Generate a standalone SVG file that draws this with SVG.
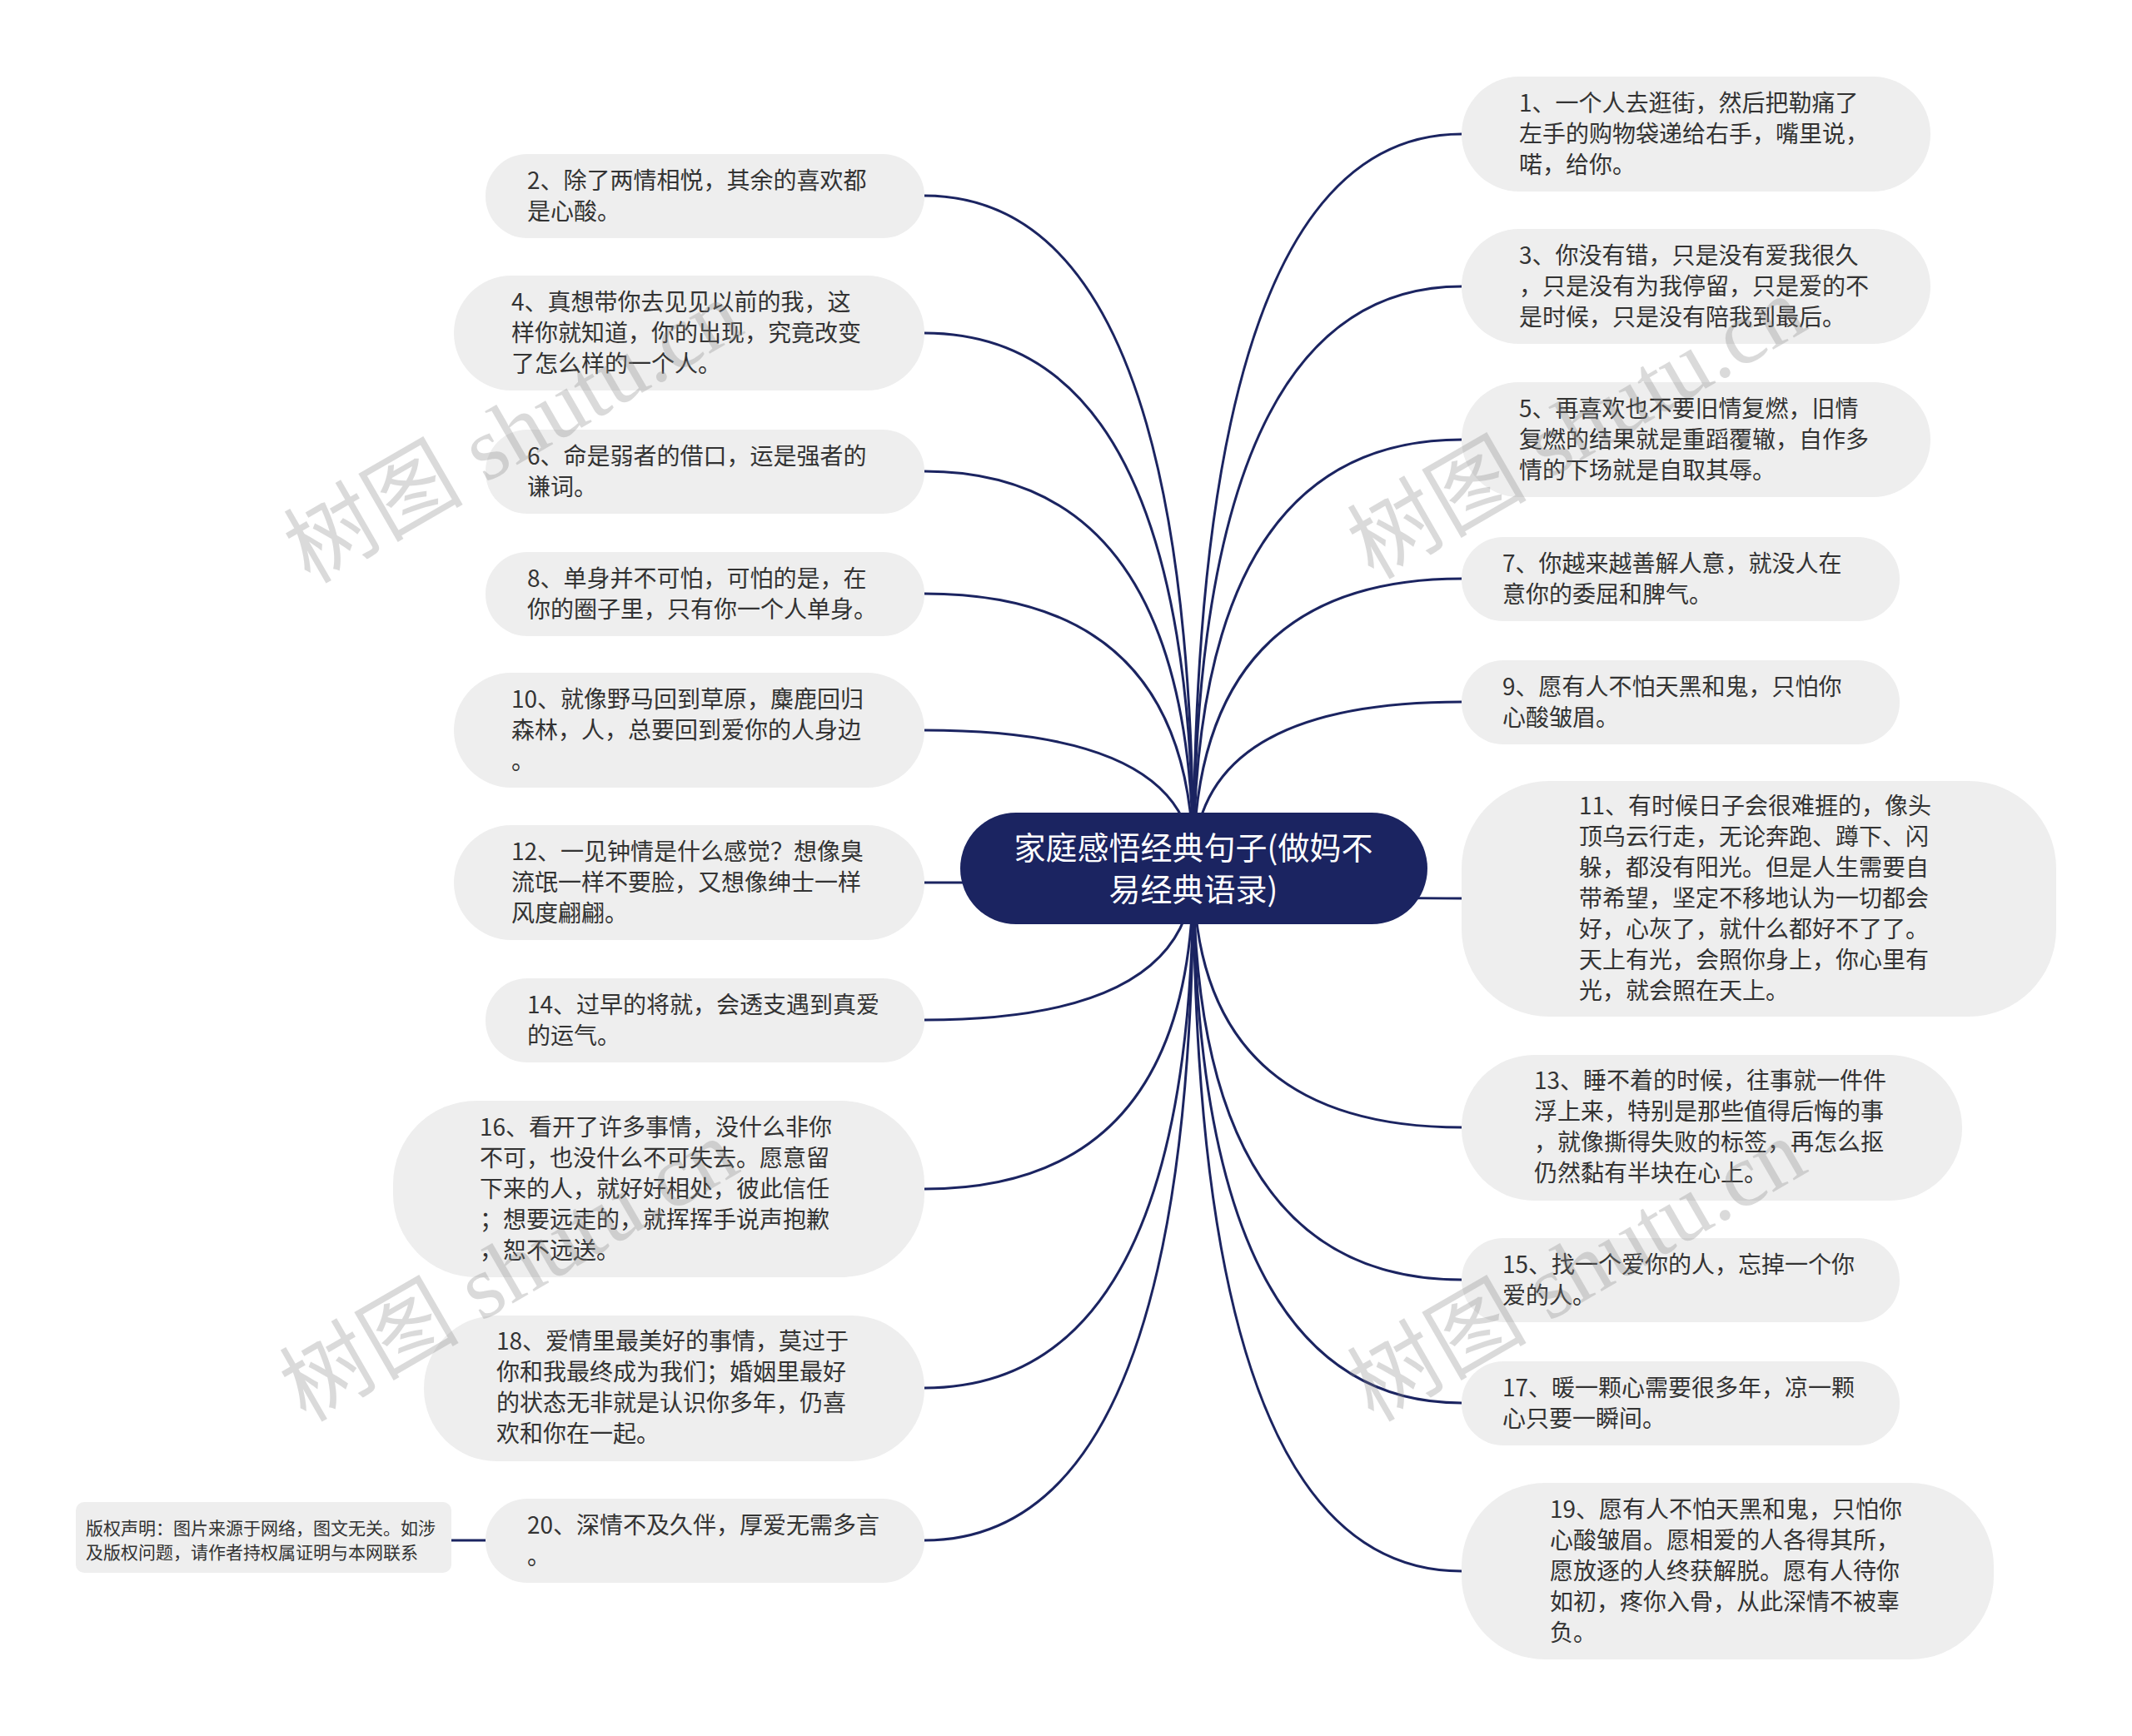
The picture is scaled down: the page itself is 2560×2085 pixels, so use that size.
<svg xmlns="http://www.w3.org/2000/svg" width="2560" height="2085" viewBox="0 0 2560 2085">
<style>
.bg{fill:#ffffff}
.node rect{fill:#eeeeee}
.node text{font-family:"Noto Sans CJK SC","Noto Sans",sans-serif;font-size:28px;fill:#333333}
.root rect{fill:#1b2461}
.root text{font-family:"Noto Sans CJK SC","Noto Sans",sans-serif;font-size:38px;fill:#ffffff;text-anchor:middle}
.note rect{fill:#eeeeee}
.note text{font-family:"Noto Sans CJK SC","Noto Sans",sans-serif;font-size:21px;fill:#333333}
.links path{fill:none;stroke:#1b2461;stroke-width:3}
.wm text{font-family:"Liberation Serif","Noto Sans CJK SC",serif;font-size:108px;fill:#888888;opacity:0.3}
</style>
<rect class="bg" x="0" y="0" width="2560" height="2085"/>
<g class="links">
<path d="M1433 1043 Q1433 161 1755 161"/>
<path d="M1433 1043 Q1433 344 1755 344"/>
<path d="M1433 1043 Q1433 528 1755 528"/>
<path d="M1433 1043 Q1433 695 1755 695"/>
<path d="M1433 1043 Q1433 843 1755 843"/>
<path d="M1433 1043 Q1433 1079 1755 1079"/>
<path d="M1433 1043 Q1433 1354 1755 1354"/>
<path d="M1433 1043 Q1433 1537 1755 1537"/>
<path d="M1433 1043 Q1433 1685 1755 1685"/>
<path d="M1433 1043 Q1433 1887 1755 1887"/>
<path d="M1433 1043 Q1433 235 1110 235"/>
<path d="M1433 1043 Q1433 400 1110 400"/>
<path d="M1433 1043 Q1433 566 1110 566"/>
<path d="M1433 1043 Q1433 713 1110 713"/>
<path d="M1433 1043 Q1433 877 1110 877"/>
<path d="M1433 1043 Q1433 1060 1110 1060"/>
<path d="M1433 1043 Q1433 1225 1110 1225"/>
<path d="M1433 1043 Q1433 1428 1110 1428"/>
<path d="M1433 1043 Q1433 1667 1110 1667"/>
<path d="M1433 1043 Q1433 1850 1110 1850"/>
<path d="M542 1850 L583 1850"/>
</g>
<g id="root" class="root">
<rect x="1153" y="976" width="561" height="134" rx="67"/>
<text x="1433" y="1032">家庭感悟经典句子(做妈不</text>
<text x="1433" y="1082">易经典语录)</text>
</g>
<g id="n1" class="node">
<rect x="1755" y="92" width="563" height="138" rx="69"/>
<text x="1824" y="134">1、一个人去逛街，然后把勒痛了</text>
<text x="1824" y="171">左手的购物袋递给右手，嘴里说，</text>
<text x="1824" y="208">喏，给你。</text>
</g>
<g id="n3" class="node">
<rect x="1755" y="275" width="563" height="138" rx="69"/>
<text x="1824" y="317">3、你没有错，只是没有爱我很久</text>
<text x="1824" y="354">，只是没有为我停留，只是爱的不</text>
<text x="1824" y="391">是时候，只是没有陪我到最后。</text>
</g>
<g id="n5" class="node">
<rect x="1755" y="459" width="563" height="138" rx="69"/>
<text x="1824" y="501">5、再喜欢也不要旧情复燃，旧情</text>
<text x="1824" y="538">复燃的结果就是重蹈覆辙，自作多</text>
<text x="1824" y="575">情的下场就是自取其辱。</text>
</g>
<g id="n7" class="node">
<rect x="1755" y="645" width="526" height="101" rx="50"/>
<text x="1804" y="687">7、你越来越善解人意，就没人在</text>
<text x="1804" y="724">意你的委屈和脾气。</text>
</g>
<g id="n9" class="node">
<rect x="1755" y="793" width="526" height="101" rx="50"/>
<text x="1804" y="835">9、愿有人不怕天黑和鬼，只怕你</text>
<text x="1804" y="872">心酸皱眉。</text>
</g>
<g id="n11" class="node">
<rect x="1755" y="938" width="714" height="283" rx="105"/>
<text x="1896" y="978">11、有时候日子会很难捱的，像头</text>
<text x="1896" y="1015">顶乌云行走，无论奔跑、蹲下、闪</text>
<text x="1896" y="1052">躲，都没有阳光。但是人生需要自</text>
<text x="1896" y="1089">带希望，坚定不移地认为一切都会</text>
<text x="1896" y="1126">好，心灰了，就什么都好不了了。</text>
<text x="1896" y="1163">天上有光，会照你身上，你心里有</text>
<text x="1896" y="1200">光，就会照在天上。</text>
</g>
<g id="n13" class="node">
<rect x="1755" y="1267" width="601" height="175" rx="87"/>
<text x="1842" y="1308">13、睡不着的时候，往事就一件件</text>
<text x="1842" y="1345">浮上来，特别是那些值得后悔的事</text>
<text x="1842" y="1382">，就像撕得失败的标签，再怎么抠</text>
<text x="1842" y="1419">仍然黏有半块在心上。</text>
</g>
<g id="n15" class="node">
<rect x="1755" y="1487" width="526" height="101" rx="50"/>
<text x="1804" y="1529">15、找一个爱你的人，忘掉一个你</text>
<text x="1804" y="1566">爱的人。</text>
</g>
<g id="n17" class="node">
<rect x="1755" y="1635" width="526" height="101" rx="50"/>
<text x="1804" y="1677">17、暖一颗心需要很多年，凉一颗</text>
<text x="1804" y="1714">心只要一瞬间。</text>
</g>
<g id="n19" class="node">
<rect x="1755" y="1781" width="639" height="212" rx="100"/>
<text x="1861" y="1823">19、愿有人不怕天黑和鬼，只怕你</text>
<text x="1861" y="1860">心酸皱眉。愿相爱的人各得其所，</text>
<text x="1861" y="1897">愿放逐的人终获解脱。愿有人待你</text>
<text x="1861" y="1934">如初，疼你入骨，从此深情不被辜</text>
<text x="1861" y="1971">负。</text>
</g>
<g id="n2" class="node">
<rect x="583" y="185" width="527" height="101" rx="50"/>
<text x="633" y="227">2、除了两情相悦，其余的喜欢都</text>
<text x="633" y="264">是心酸。</text>
</g>
<g id="n4" class="node">
<rect x="545" y="331" width="565" height="138" rx="69"/>
<text x="614" y="373">4、真想带你去见见以前的我，这</text>
<text x="614" y="410">样你就知道，你的出现，究竟改变</text>
<text x="614" y="447">了怎么样的一个人。</text>
</g>
<g id="n6" class="node">
<rect x="583" y="516" width="527" height="101" rx="50"/>
<text x="633" y="558">6、命是弱者的借口，运是强者的</text>
<text x="633" y="595">谦词。</text>
</g>
<g id="n8" class="node">
<rect x="583" y="663" width="527" height="101" rx="50"/>
<text x="633" y="705">8、单身并不可怕，可怕的是，在</text>
<text x="633" y="742">你的圈子里，只有你一个人单身。</text>
</g>
<g id="n10" class="node">
<rect x="545" y="808" width="565" height="138" rx="69"/>
<text x="614" y="850">10、就像野马回到草原，麋鹿回归</text>
<text x="614" y="887">森林，人，总要回到爱你的人身边</text>
<text x="614" y="924">。</text>
</g>
<g id="n12" class="node">
<rect x="545" y="991" width="565" height="138" rx="69"/>
<text x="614" y="1033">12、一见钟情是什么感觉？想像臭</text>
<text x="614" y="1070">流氓一样不要脸，又想像绅士一样</text>
<text x="614" y="1107">风度翩翩。</text>
</g>
<g id="n14" class="node">
<rect x="583" y="1175" width="527" height="101" rx="50"/>
<text x="633" y="1217">14、过早的将就，会透支遇到真爱</text>
<text x="633" y="1254">的运气。</text>
</g>
<g id="n16" class="node">
<rect x="472" y="1322" width="638" height="212" rx="100"/>
<text x="576" y="1364">16、看开了许多事情，没什么非你</text>
<text x="576" y="1401">不可，也没什么不可失去。愿意留</text>
<text x="576" y="1438">下来的人，就好好相处，彼此信任</text>
<text x="576" y="1475">；想要远走的，就挥挥手说声抱歉</text>
<text x="576" y="1512">，恕不远送。</text>
</g>
<g id="n18" class="node">
<rect x="509" y="1580" width="601" height="175" rx="87"/>
<text x="596" y="1621">18、爱情里最美好的事情，莫过于</text>
<text x="596" y="1658">你和我最终成为我们；婚姻里最好</text>
<text x="596" y="1695">的状态无非就是认识你多年，仍喜</text>
<text x="596" y="1732">欢和你在一起。</text>
</g>
<g id="n20" class="node">
<rect x="583" y="1800" width="527" height="101" rx="50"/>
<text x="633" y="1842">20、深情不及久伴，厚爱无需多言</text>
<text x="633" y="1879">。</text>
</g>
<g id="copyright" class="note">
<rect x="91" y="1804" width="451" height="85" rx="10"/>
<text x="103" y="1843">版权声明：图片来源于网络，图文无关。如涉</text>
<text x="103" y="1872">及版权问题，请作者持权属证明与本网联系</text>
</g>
<g class="wm">
<text x="372" y="702" transform="rotate(-30 372 702)">树图 shutu.cn</text>
<text x="1649" y="697" transform="rotate(-30 1649 697)">树图 shutu.cn</text>
<text x="367" y="1709" transform="rotate(-30 367 1709)">树图 shutu.cn</text>
<text x="1649" y="1709" transform="rotate(-30 1649 1709)">树图 shutu.cn</text>
</g>
</svg>
